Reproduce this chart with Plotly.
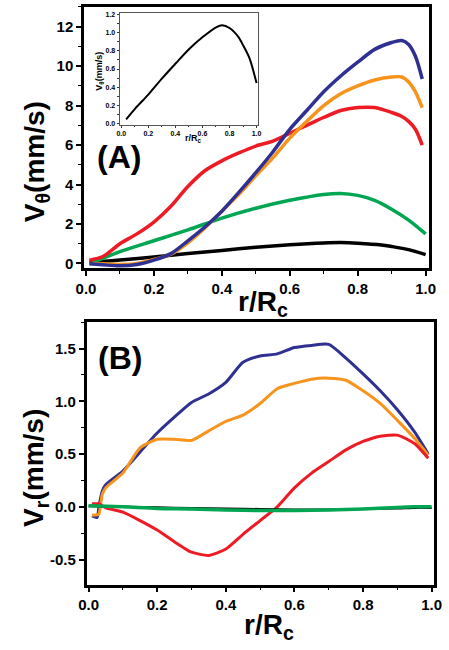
import plotly.graph_objects as go

# ---------------- Data ----------------
# Panel A: azimuthal velocity V_theta (mm/s) vs r/Rc
rA = [0.01, 0.05, 0.1, 0.15, 0.2, 0.25, 0.3, 0.35, 0.4, 0.45, 0.5, 0.55, 0.6,
      0.65, 0.7, 0.75, 0.8, 0.85, 0.9, 0.93, 0.95, 0.97, 0.99]
blueA = [-0.02, -0.07, -0.12, -0.05, 0.17, 0.5, 1.15, 1.85, 2.65, 3.6, 4.6, 5.65, 6.8,
         7.75, 8.7, 9.5, 10.2, 10.85, 11.2, 11.3, 11.1, 10.5, 9.35]
orangeA = [0.0, -0.02, -0.05, 0.0, 0.2, 0.47, 1.05, 1.8, 2.65, 3.5, 4.45, 5.35, 6.35,
           7.2, 8.0, 8.6, 9.0, 9.3, 9.45, 9.45, 9.2, 8.7, 7.9]
redA = [0.17, 0.35, 1.0, 1.5, 2.1, 2.9, 3.9, 4.7, 5.2, 5.6, 5.95, 6.2, 6.6,
        7.0, 7.4, 7.75, 7.9, 7.9, 7.65, 7.45, 7.2, 6.8, 6.0]
rG = [0.02, 0.1, 0.2, 0.3, 0.4, 0.5, 0.6, 0.7, 0.75, 0.8, 0.85, 0.9, 0.95, 1.0]
greenA = [0.05, 0.6, 1.15, 1.7, 2.3, 2.8, 3.2, 3.5, 3.55, 3.45, 3.2, 2.75, 2.2, 1.5]
rK = [0.01, 0.05, 0.1, 0.2, 0.3, 0.4, 0.5, 0.6, 0.7, 0.75, 0.8, 0.87, 0.9, 0.95, 1.0]
blackA = [0.08, 0.1, 0.17, 0.33, 0.5, 0.66, 0.82, 0.95, 1.04, 1.06, 1.03, 0.94, 0.86, 0.7, 0.45]

# Inset: V_theta of the slowest case
rI = [0.036, 0.107, 0.2, 0.303, 0.403, 0.502, 0.604, 0.704, 0.746, 0.8, 0.865, 0.9, 0.948, 1.0]
inset = [0.047, 0.174, 0.32, 0.5, 0.663, 0.82, 0.953, 1.06, 1.08, 1.05, 0.953, 0.862, 0.717, 0.446]

# Panel B: radial velocity V_r (mm/s) vs r/Rc
rB = [0.01, 0.025, 0.03, 0.04, 0.05, 0.1, 0.15, 0.2, 0.25, 0.3, 0.35, 0.4, 0.45,
      0.5, 0.55, 0.6, 0.65, 0.7, 0.75, 0.8, 0.85, 0.9, 0.95, 0.99]
blueB = [-0.085, -0.1, 0.0, 0.15, 0.21, 0.34, 0.52, 0.7, 0.85, 0.99, 1.07, 1.18, 1.37,
         1.43, 1.45, 1.51, 1.53, 1.54, 1.41, 1.26, 1.1, 0.92, 0.71, 0.5]
orangeB = [-0.08, -0.075, -0.07, 0.12, 0.18, 0.32, 0.56, 0.64, 0.64, 0.63, 0.72, 0.81, 0.87,
           0.98, 1.12, 1.17, 1.21, 1.22, 1.2, 1.1, 0.98, 0.82, 0.65, 0.49]
redB = [0.03, 0.03, 0.03, 0.01, -0.01, -0.05, -0.13, -0.22, -0.33, -0.43, -0.46, -0.4, -0.26,
        -0.13, 0.0, 0.18, 0.32, 0.43, 0.54, 0.62, 0.67, 0.68, 0.6, 0.46]
rGB = [0.0, 0.1, 0.2, 0.3, 0.4, 0.5, 0.6, 0.7, 0.8, 0.9, 0.95, 1.0]
greenB = [0.01, 0.0, -0.015, -0.02, -0.03, -0.035, -0.035, -0.03, -0.02, -0.005, 0.0, 0.0]
blackB = [0.005, 0.0, -0.005, -0.01, -0.015, -0.02, -0.025, -0.025, -0.02, -0.015, -0.01, -0.01]

BLUE = "#2E3192"
ORANGE = "#F7941D"
RED = "#ED1C24"
GREEN = "#00A651"
BLACK = "#000000"

FONT = "Liberation Sans, Arial, sans-serif"

fig = go.Figure()

def add(x, y, color, width, xa, ya, smooth=0.8):
    fig.add_trace(go.Scatter(x=x, y=y, mode="lines", xaxis=xa, yaxis=ya,
                             line=dict(color=color, width=width, shape="spline", smoothing=smooth),
                             showlegend=False, hoverinfo="skip"))

# Panel A
add(rK, blackA, BLACK, 3.5, "x", "y")
add(rG, greenA, GREEN, 3.5, "x", "y")
add(rA, redA, RED, 3.5, "x", "y")
add(rA, orangeA, ORANGE, 3.5, "x", "y")
add(rA, blueA, BLUE, 3.5, "x", "y")
# Inset
add(rI, inset, BLACK, 2, "x3", "y3")
# Panel B
add(rB, blueB, BLUE, 3, "x2", "y2", 0.6)
add(rB, orangeB, ORANGE, 3, "x2", "y2", 0.6)
add(rB, redB, RED, 3, "x2", "y2", 0.6)
add(rGB, blackB, BLACK, 2, "x2", "y2")
add(rGB, greenB, GREEN, 3.5, "x2", "y2")

W, H = 449, 650

def px(v):
    return v / W

def py(v):
    return 1 - v / H

tickfont = dict(family=FONT, size=15, color="black", weight="bold")

common_axis = dict(showline=True, linecolor="black", linewidth=2.5, mirror=True,
                   ticks="outside", ticklen=5, tickwidth=1.5, tickcolor="black",
                   showgrid=False, zeroline=False, tickfont=tickfont)

minor_x = dict(ticks="outside", ticklen=3, tickwidth=1.2, tickcolor="black", dtick=0.1, tick0=0)

fig.update_layout(
    width=W, height=H,
    margin=dict(l=0, r=0, t=0, b=0),
    paper_bgcolor="white", plot_bgcolor="white",
    xaxis=dict(domain=[px(78), px(437)], range=[-0.0057, 1.0113], anchor="y",
               tickvals=[0, 0.2, 0.4, 0.6, 0.8, 1.0], ticktext=["0.0", "0.2", "0.4", "0.6", "0.8", "1.0"],
               minor=minor_x, **common_axis),
    yaxis=dict(domain=[py(268), py(4)], range=[-0.236, 13.0], anchor="x",
               tickvals=[0, 2, 4, 6, 8, 10, 12],
               minor=dict(ticks="outside", ticklen=3, tickwidth=1.2, tickcolor="black", dtick=1, tick0=0),
               **common_axis),
    xaxis2=dict(domain=[px(80.7), px(441.7)], range=[-0.0056, 1.0067], anchor="y2",
                tickvals=[0, 0.2, 0.4, 0.6, 0.8, 1.0], ticktext=["0.0", "0.2", "0.4", "0.6", "0.8", "1.0"],
                minor=minor_x, **common_axis),
    yaxis2=dict(domain=[py(588), py(322.7)], range=[-0.7376, 1.75], anchor="x2",
                tickvals=[-0.5, 0, 0.5, 1.0, 1.5], ticktext=["-0.5", "0.0", "0.5", "1.0", "1.5"],
                minor=dict(ticks="outside", ticklen=3, tickwidth=1.2, tickcolor="black", dtick=0.25, tick0=0),
                **common_axis),
    xaxis3=dict(domain=[px(115), px(259)], range=[-0.012, 1.012], anchor="y3",
                tickvals=[0, 0.2, 0.4, 0.6, 0.8, 1.0], ticktext=["0.0", "0.2", "0.4", "0.6", "0.8", "1.0"],
                showline=True, linecolor="#555555", linewidth=1, mirror=True,
                ticks="outside", ticklen=2, tickwidth=1, tickcolor="#333333",
                minor=dict(ticks="outside", ticklen=1.5, tickwidth=1, tickcolor="#333333", dtick=0.1, tick0=0),
                showgrid=False, zeroline=False,
                tickfont=dict(family=FONT, size=7, color="black", weight="bold")),
    yaxis3=dict(domain=[py(123), py(10.5)], range=[-0.01, 1.21], anchor="x3",
                tickvals=[0, 0.2, 0.4, 0.6, 0.8, 1.0, 1.2],
                ticktext=["0.0", "0.2", "0.4", "0.6", "0.8", "1.0", "1.2"],
                showline=True, linecolor="#555555", linewidth=1, mirror=True,
                ticks="outside", ticklen=2, tickwidth=1, tickcolor="#333333",
                minor=dict(ticks="outside", ticklen=1.5, tickwidth=1, tickcolor="#333333", dtick=0.1, tick0=0),
                showgrid=False, zeroline=False,
                tickfont=dict(family=FONT, size=7, color="black", weight="bold")),
)

def ann(text, x, y, size, angle=0):
    fig.add_annotation(text=text, x=px(x), y=py(y), xref="paper", yref="paper",
                       showarrow=False, textangle=angle, xanchor="center", yanchor="middle",
                       font=dict(family=FONT, size=size, color="black", weight="bold"))

# Axis titles
ann("r/R<sub>c</sub>", 264, 304, 28)
ann("V<sub>θ</sub>(mm/s)", 28, 160, 28, -90)
ann("r/R<sub>c</sub>", 270, 630, 28)
ann("V<sub>r</sub>(mm/s)", 28, 470, 28, -90)
# Inset titles
ann("r/R<sub>c</sub>", 192, 137, 9)
ann("V<sub>θ</sub>(mm/s)", 94, 69, 9, -90)
# Panel labels
ann("(A)", 114, 156, 32)
ann("(B)", 115, 359, 32)

fig.write_html("out.html", config={"displayModeBar": False},
               post_script="document.body.style.margin='0';document.body.style.overflow='hidden';")
